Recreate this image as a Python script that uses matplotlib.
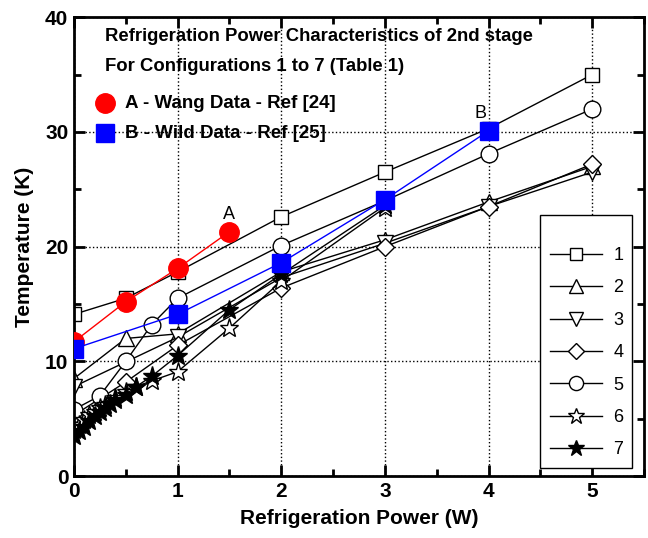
import matplotlib
matplotlib.use("Agg")
import matplotlib.pyplot as plt
from matplotlib.lines import Line2D
from matplotlib.patches import Rectangle
from matplotlib.ticker import MultipleLocator

plt.rcParams['font.family'] = ['Liberation Sans', 'DejaVu Sans']

# ---- data ----
s1_x = [0, 0.5, 1, 2, 3, 4, 5]
s1_y = [14.1, 15.5, 17.8, 22.6, 26.5, 30.3, 35.0]

s2_x = [0, 0.5, 1, 2, 3, 4, 5]
s2_y = [8.5, 12.0, 12.4, 17.8, 20.6, 23.9, 27.0]

s3_x = [0, 1, 2, 3, 4, 5]
s3_y = [7.8, 12.1, 17.3, 20.3, 23.5, 26.5]

s4_x = [0, 0.5, 1, 2, 3, 4, 5]
s4_y = [5.3, 8.2, 11.4, 16.4, 20.0, 23.5, 27.2]

s5_x = [0, 0.25, 0.5, 0.75, 1, 2, 3, 4, 5]
s5_y = [5.8, 7.0, 10.0, 13.2, 15.5, 20.1, 24.0, 28.1, 32.0]

s6_x = [0, 0.05, 0.1, 0.15, 0.2, 0.25, 0.3, 0.4, 0.5, 0.6, 0.75, 1, 1.5, 2, 3]
s6_y = [4.0, 4.5, 4.9, 5.3, 5.6, 5.9, 6.2, 6.8, 7.3, 7.8, 8.3, 9.1, 12.9, 17.0, 23.4]

s7_x = [0, 0.05, 0.1, 0.15, 0.2, 0.25, 0.3, 0.35, 0.4, 0.5, 0.6, 0.75, 1, 1.5, 2, 3]
s7_y = [3.5, 3.9, 4.3, 4.8, 5.2, 5.6, 5.9, 6.3, 6.6, 7.1, 7.8, 8.7, 10.5, 14.5, 17.6, 23.6]

wang_x = [0, 0.5, 1, 1.5]
wang_y = [11.7, 15.2, 18.1, 21.3]

wild_x = [0, 1, 2, 3, 4]
wild_y = [11.1, 14.1, 18.6, 24.1, 30.1]

series_labels = ['1', '2', '3', '4', '5', '6', '7']
title_lines = ['Refrigeration Power Characteristics of 2nd stage',
               'For Configurations 1 to 7 (Table 1)']
ref_labels = ['A - Wang Data - Ref [24]', 'B - Wild Data - Ref [25]']

fig = plt.figure(figsize=(6.48, 5.38), dpi=100)
ax = fig.add_axes([0.114, 0.115, 0.88, 0.853])

styles = [
    (s1_x, s1_y, dict(marker='s', ms=10, mfc='white')),
    (s2_x, s2_y, dict(marker='^', ms=12, mfc='white')),
    (s3_x, s3_y, dict(marker='v', ms=12, mfc='white')),
    (s4_x, s4_y, dict(marker='D', ms=9, mfc='white')),
    (s5_x, s5_y, dict(marker='o', ms=12, mfc='white')),
    (s6_x, s6_y, dict(marker='*', ms=14, mfc='white')),
    (s7_x, s7_y, dict(marker='*', ms=14, mfc='black')),
]
handles = []
for (xs, ys, st) in styles:
    ax.plot(xs, ys, color='black', lw=1, mec='black', mew=1, **st)
    handles.append(Line2D([], [], color='black', lw=1, mec='black', mew=1,
                          marker=st['marker'], ms=st['ms'] * 0.85, mfc=st['mfc']))

ax.plot(wang_x, wang_y, color='red', lw=1, marker='o', ms=14, mfc='red', mec='red', zorder=5)
ax.plot(wild_x, wild_y, color='blue', lw=1, marker='s', ms=13, mfc='blue', mec='blue', zorder=5)

ax.text(1.5, 22.8, 'A', fontsize=13, ha='center', va='center')
ax.text(3.92, 31.6, 'B', fontsize=13, ha='center', va='center')

ax.set_xlim(0, 5.5)
ax.set_ylim(0, 40)
ax.xaxis.set_major_locator(MultipleLocator(1))
ax.xaxis.set_minor_locator(MultipleLocator(0.5))
ax.yaxis.set_major_locator(MultipleLocator(10))
ax.yaxis.set_minor_locator(MultipleLocator(5))
ax.tick_params(which='both', direction='in', top=True, right=True, width=2)
ax.tick_params(which='major', length=8, labelsize=15, pad=4)
ax.tick_params(which='minor', length=5)
for lab in ax.get_xticklabels() + ax.get_yticklabels():
    lab.set_fontweight('bold')
for sp in ax.spines.values():
    sp.set_linewidth(2)
ax.grid(True, which='major', color='black', ls=':', lw=1)

ax.set_xlabel('Refrigeration Power (W)', fontsize=15, fontweight='bold', labelpad=6)
ax.set_ylabel('Temperature (K)', fontsize=15, fontweight='bold', labelpad=8)

# in-plot title
ax.text(0.3, 38.3, title_lines[0], fontsize=13.3, fontweight='bold', va='center')
ax.text(0.3, 35.7, title_lines[1], fontsize=13.3, fontweight='bold', va='center')
ax.plot([0.3], [32.5], marker='o', ms=14, color='red', ls='none')
ax.plot([0.3], [29.9], marker='s', ms=13, color='blue', ls='none')
ax.text(0.49, 32.5, ref_labels[0], fontsize=13.5, fontweight='bold', va='center')
ax.text(0.49, 29.9, ref_labels[1], fontsize=13.5, fontweight='bold', va='center')

# legend box
ax.add_patch(Rectangle((0.8175, 0.0174), 0.1615, 0.5512, transform=ax.transAxes,
                       facecolor='white', edgecolor='black', lw=1, zorder=6))
leg = ax.legend(handles, series_labels, loc='lower left', bbox_to_anchor=(0.8175, 0.0174),
                fontsize=13, frameon=False, handlelength=2.9, handletextpad=0.6,
                labelspacing=0.85, borderpad=0.55, borderaxespad=0)
leg.set_zorder(7)

fig.savefig('out.png', dpi=100)
